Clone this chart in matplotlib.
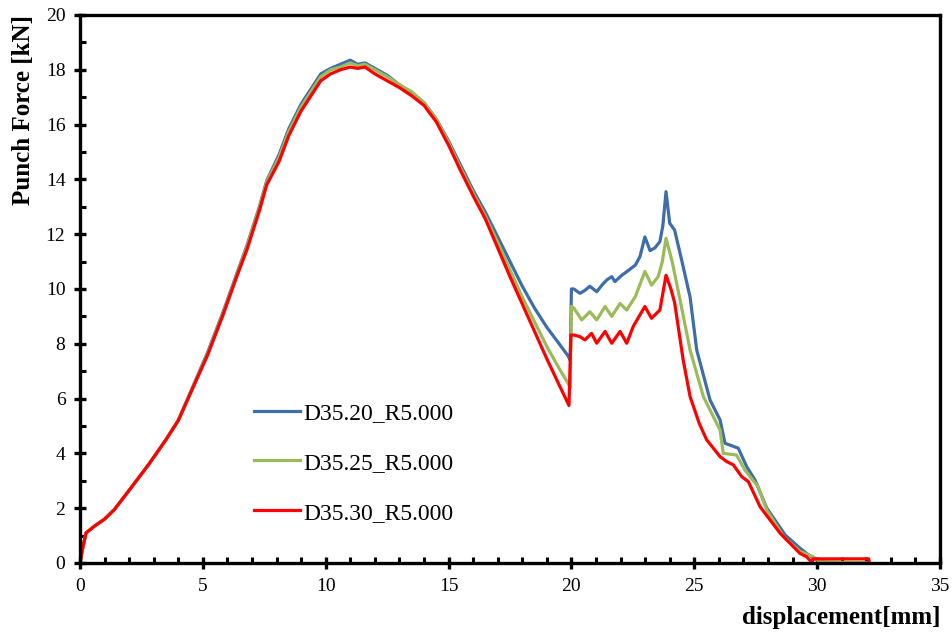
import numpy as np
import matplotlib
matplotlib.use('Agg')
import matplotlib.pyplot as plt
from matplotlib.ticker import MultipleLocator

plt.rcParams['font.family'] = ['Liberation Serif', 'DejaVu Serif']

# ── data (displacement [mm], punch force [kN]) ─────────────────────────────
labels = ['D35.20_R5.000', 'D35.25_R5.000', 'D35.30_R5.000']
colors = ['#3E6DAD', '#9BBB59', '#FF0000']

x_d20 = [0, 0.1, 0.25, 0.6, 1.0, 1.4, 2.0, 2.8, 3.5, 4.0, 4.6, 5.2, 5.8, 6.4,
         6.8, 7.3, 7.6, 8.1, 8.5, 9.0, 9.4, 9.8, 10.2, 10.6, 11.0, 11.3, 11.6,
         12.0, 12.5, 13.0, 13.5, 14.0, 14.5, 15.0, 15.5, 16.0, 16.5, 17.0,
         17.5, 18.0, 18.5, 19.0, 19.5, 19.87, 19.95, 20.0, 20.1, 20.35, 20.55,
         20.75, 21.03, 21.25, 21.44, 21.64, 21.77, 22.05, 22.25, 22.6, 22.79,
         22.99, 23.2, 23.4, 23.6, 23.72, 23.85, 24.0, 24.2, 24.5, 24.83, 25.1,
         25.64, 26.05, 26.25, 26.79, 27.13, 27.47, 27.95, 28.7, 29.3, 29.57,
         29.98, 30.3, 32.1]
y_d20 = [0, 0.5, 1.1, 1.35, 1.6, 1.95, 2.65, 3.6, 4.5, 5.2, 6.45, 7.7, 9.1,
         10.6, 11.6, 13.0, 13.95, 14.9, 15.85, 16.75, 17.3, 17.85, 18.05,
         18.2, 18.35, 18.2, 18.25, 18.05, 17.8, 17.45, 17.15, 16.8, 16.2, 15.4,
         14.5, 13.6, 12.8, 11.9, 11.0, 10.1, 9.3, 8.6, 8.0, 7.55, 7.4, 10.0,
         10.0, 9.84, 9.95, 10.1, 9.9, 10.15, 10.33, 10.45, 10.27, 10.5, 10.63,
         10.87, 11.18, 11.9, 11.4, 11.5, 11.73, 12.3, 13.55, 12.4, 12.15, 11.0,
         9.7, 7.77, 5.95, 5.22, 4.37, 4.19, 3.52, 3.03, 2.0, 1.02, 0.54, 0.35,
         0.11, 0.0, 0.0]

x_d25 = [0, 0.1, 0.25, 0.6, 1.0, 1.4, 2.0, 2.8, 3.5, 4.0, 4.6, 5.2, 5.8, 6.4,
         6.8, 7.3, 7.6, 8.1, 8.5, 9.0, 9.4, 9.8, 10.2, 10.6, 11.0, 11.3, 11.6,
         12.0, 12.5, 13.0, 13.5, 14.0, 14.5, 15.0, 15.5, 16.0, 16.5, 17.0,
         17.5, 18.0, 18.5, 19.0, 19.5, 19.87, 19.95, 20.0, 20.1, 20.42, 20.75,
         21.03, 21.37, 21.64, 21.98, 22.25, 22.6, 22.99, 23.26, 23.53, 23.7,
         23.85, 24.1, 24.42, 24.83, 25.37, 26.05, 26.18, 26.72, 27.06, 27.6,
         27.95, 28.63, 29.3, 29.84, 30.1, 32.1]
y_d25 = [0, 0.5, 1.1, 1.35, 1.6, 1.95, 2.65, 3.6, 4.5, 5.2, 6.42, 7.65, 9.05,
         10.55, 11.55, 12.95, 13.9, 14.8, 15.75, 16.65, 17.2, 17.75, 18.0,
         18.1, 18.25, 18.15, 18.2, 18.0, 17.75, 17.45, 17.2, 16.8, 16.2, 15.35,
         14.4, 13.5, 12.65, 11.7, 10.7, 9.7, 8.8, 7.9, 7.1, 6.55, 6.4, 9.37,
         9.3, 8.87, 9.17, 8.87, 9.36, 9.0, 9.47, 9.23, 9.72, 10.64, 10.14,
         10.45, 11.0, 11.85, 11.0, 9.6, 7.77, 6.07, 4.85, 4.0, 3.94, 3.39,
         2.78, 1.93, 0.96, 0.42, 0.23, 0.05, 0.0]

x_d30 = [0, 0.1, 0.25, 0.6, 1.0, 1.4, 2.0, 2.8, 3.5, 4.0, 4.6, 5.2, 5.8, 6.4,
         6.8, 7.3, 7.6, 8.1, 8.5, 9.0, 9.4, 9.8, 10.2, 10.6, 11.0, 11.3, 11.6,
         12.0, 12.5, 13.0, 13.5, 14.0, 14.5, 15.0, 15.5, 16.0, 16.5, 17.0,
         17.5, 18.0, 18.5, 19.0, 19.5, 19.9, 19.98, 20.1, 20.35, 20.55, 20.82,
         21.03, 21.37, 21.64, 21.98, 22.25, 22.52, 22.99, 23.26, 23.6, 23.85,
         24.05, 24.2, 24.4, 24.55, 24.83, 25.2, 25.5, 26.05, 26.32, 26.59,
         26.93, 27.2, 27.68, 28.5, 29.3, 29.57, 29.8, 29.82, 32.1, 32.12]
y_d30 = [0, 0.5, 1.1, 1.35, 1.6, 1.95, 2.65, 3.6, 4.5, 5.2, 6.4, 7.6, 9.0,
         10.5, 11.45, 12.85, 13.8, 14.65, 15.6, 16.5, 17.05, 17.6, 17.85,
         18.0, 18.1, 18.05, 18.1, 17.85, 17.6, 17.35, 17.05, 16.7, 16.1,
         15.25, 14.3, 13.4, 12.55, 11.5, 10.45, 9.45, 8.45, 7.45, 6.5, 5.75,
         8.32, 8.32, 8.26, 8.14, 8.38, 8.02, 8.45, 8.02, 8.45, 8.02, 8.64,
         9.36, 8.93, 9.23, 10.5, 10.0, 9.5, 8.3, 7.4, 6.07, 5.1, 4.5, 3.88,
         3.7, 3.58, 3.15, 2.97, 2.05, 1.08, 0.35, 0.23, 0.0, 0.15, 0.15, 0.0]

series_x = [x_d20, x_d25, x_d30]
series_y = [y_d20, y_d25, y_d30]

# ── figure ──────────────────────────────────────────────────────────────────
fig = plt.figure(figsize=(9.52, 6.37), dpi=100, facecolor='white')
ax = fig.add_axes([0.084, 0.1162, 0.9034, 0.8603])

for xs, ys, c, lab in zip(series_x, series_y, colors, labels):
    ax.plot(xs, ys, color=c, lw=2.3, label=lab, solid_joinstyle='round')

ax.set_xlim(0, 35)
ax.set_ylim(0, 20)
ax.xaxis.set_major_locator(MultipleLocator(5))
ax.xaxis.set_minor_locator(MultipleLocator(1))
ax.yaxis.set_major_locator(MultipleLocator(2))
ax.yaxis.set_minor_locator(MultipleLocator(1))

for s in ax.spines.values():
    s.set_linewidth(2.4)
ax.tick_params(which='major', direction='inout', length=9, width=2.4,
               labelsize=14, pad=6)
ax.tick_params(which='minor', direction='in', length=4, width=2.2)

ax.set_xlabel('displacement[mm]', fontsize=18, fontweight='bold', loc='right',
              labelpad=8)
ax.set_ylabel('Punch Force [kN]', fontsize=18, fontweight='bold', loc='top',
              labelpad=8)

ax.legend(loc='center left', bbox_to_anchor=(0.2023, 0.1825), frameon=False,
          fontsize=17, handlelength=1.95, handletextpad=0.15, labelspacing=1.2,
          borderpad=0, borderaxespad=0)

fig.savefig('out.png', dpi=100, facecolor='white')
